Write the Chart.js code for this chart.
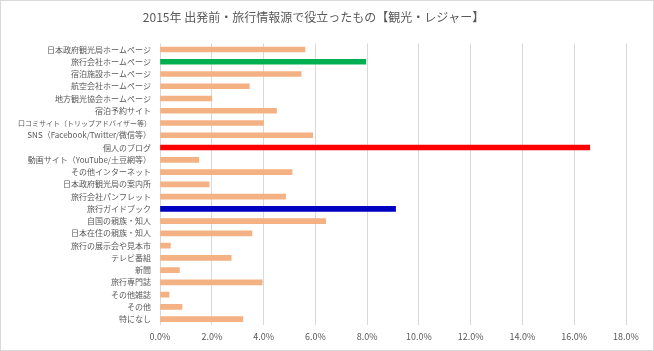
<!DOCTYPE html>
<html>
<head>
<meta charset="utf-8">
<script src="https://cdn.jsdelivr.net/npm/chart.js@4.4.1/dist/chart.umd.min.js"></script>
<style>
    html, body { margin: 0; padding: 0; background: #fff; }
    #wrap { width: 652px; height: 349px; border: 1px solid #d9d9d9; }
</style>
</head>
<body>
<div id="wrap"><canvas id="sourceChart" width="652" height="349"></canvas></div>
<script>
const categories = [
    '日本政府観光局ホームページ',
    '旅行会社ホームページ',
    '宿泊施設ホームページ',
    '航空会社ホームページ',
    '地方観光協会ホームページ',
    '宿泊予約サイト',
    '口コミサイト（トリップアドバイザー等）',
    'SNS（Facebook/Twitter/微信等）',
    '個人のブログ',
    '動画サイト（YouTube/土豆網等）',
    'その他インターネット',
    '日本政府観光局の案内所',
    '旅行会社パンフレット',
    '旅行ガイドブック',
    '自国の親族・知人',
    '日本在住の親族・知人',
    '旅行の展示会や見本市',
    'テレビ番組',
    '新聞',
    '旅行専門誌',
    'その他雑誌',
    'その他',
    '特になし'
];

// share of respondents, %
const shares = [5.6, 7.95, 5.45, 3.45, 2.0, 4.5, 4.0, 5.9, 16.6, 1.5, 5.1, 1.9,
    4.85, 9.1, 6.4, 3.55, 0.4, 2.75, 0.75, 3.95, 0.35, 0.85, 3.2];

// highlighted categories
const highlights = { '旅行会社ホームページ': '#00b050', '個人のブログ': '#ff0000', '旅行ガイドブック': '#0000c0' };

const xTicks = [0, 2, 4, 6, 8, 10, 12, 14, 16, 18];

const barColors = categories.map(c => highlights[c] || '#f4b183');
const textColor = '#595959';
const fontFamily = '"Noto Sans CJK JP", "Noto Sans", sans-serif';

const ctx = document.getElementById('sourceChart').getContext('2d');
new Chart(ctx, {
    type: 'bar',
    data: {
        labels: categories,
        datasets: [{
            data: shares,
            backgroundColor: barColors,
            barThickness: 5,
            borderWidth: 0
        }]
    },
    options: {
        indexAxis: 'y',
        responsive: false,
        animation: false,
        layout: {
            padding: { left: 0, right: 27, top: 0, bottom: 2 }
        },
        plugins: {
            legend: { display: false },
            tooltip: { enabled: false },
            title: {
                display: true,
                text: '2015年 出発前・旅行情報源で役立ったもの【観光・レジャー】',
                color: textColor,
                font: { family: fontFamily, size: 12, weight: 'normal' },
                padding: { top: 9, bottom: 19 }
            }
        },
        scales: {
            x: {
                min: xTicks[0],
                max: xTicks[xTicks.length - 1],
                afterBuildTicks: axis => {
                    axis.ticks = xTicks.map(v => ({ value: v }));
                },
                ticks: {
                    color: textColor,
                    padding: 6,
                    maxRotation: 0,
                    font: { family: fontFamily, size: 9 },
                    callback: value => value.toFixed(1) + '%'
                },
                grid: { color: '#d9d9d9', drawTicks: false },
                border: { display: false }
            },
            y: {
                afterFit: axis => { axis.width = 159; },
                ticks: {
                    color: textColor,
                    padding: 9,
                    autoSkip: false,
                    // the long review-site label is squeezed a little so it fits
                    font: c => ({ family: fontFamily, size: c.index === 6 ? 7 : 8 })
                },
                grid: { display: false, drawTicks: false },
                border: { display: false }
            }
        }
    }
});
</script>
</body>
</html>
